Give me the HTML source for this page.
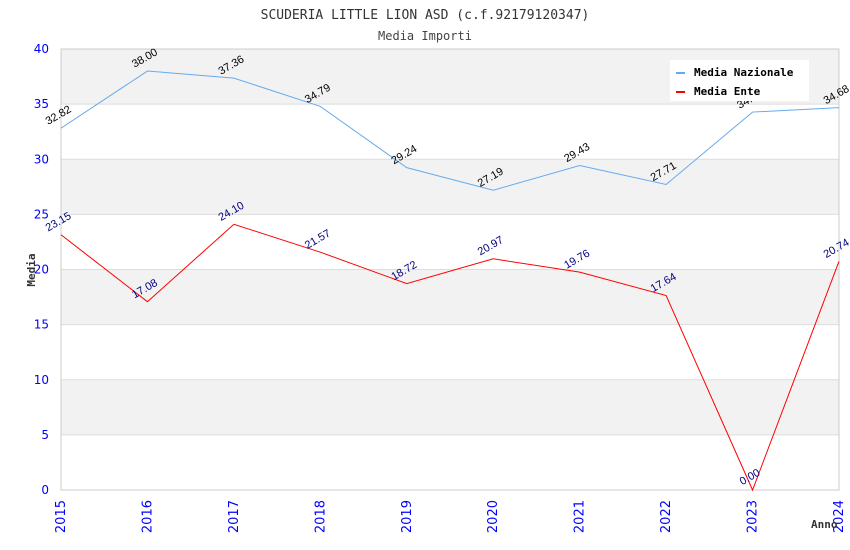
<!DOCTYPE html>
<html><head><meta charset="utf-8"><style>
body{margin:0;background:#fff;}
svg{display:block;font-family:"DejaVu Sans Mono","Liberation Mono",monospace;}
</style></head><body>
<svg id="c" width="850" height="550" xmlns="http://www.w3.org/2000/svg">
<text x="425" y="19" text-anchor="middle" font-size="13" fill="#333">SCUDERIA LITTLE LION ASD (c.f.92179120347)</text>
<text x="425" y="40" text-anchor="middle" font-size="12" fill="#444">Media Importi</text>
<g id="plot"></g>
<text x="35" y="270" transform="rotate(-90 35 270)" text-anchor="middle" font-size="11" font-weight="bold" fill="#333">Media</text>
<text x="811" y="528" font-size="11" font-weight="bold" fill="#333">Anno</text>
</svg>
<script>
const years=['2015','2016','2017','2018','2019','2020','2021','2022','2023','2024'];
const nazionale=[32.82,38.00,37.36,34.79,29.24,27.19,29.43,27.71,34.28,34.68];
const ente=[23.15,17.08,24.10,21.57,18.72,20.97,19.76,17.64,0.00,20.74];
const yTicks=[0,5,10,15,20,25,30,35,40];
const NS='http://www.w3.org/2000/svg';
const L=61,R=839,T=49,B=490,yMax=40;
const xs=i=>L+(R-L)*i/(years.length-1);
const ys=v=>B-(B-T)*v/yMax;
const g=document.getElementById('plot');
function mk(t,a){const e=document.createElementNS(NS,t);for(const k in a)e.setAttribute(k,a[k]);g.appendChild(e);return e;}
for(let i=0;i<yTicks.length-1;i++){
  const r=mk('rect',{x:L,y:ys(yTicks[i+1]),width:R-L,height:ys(yTicks[i])-ys(yTicks[i+1]),fill:i%2===1?'#f2f2f2':'#fff'});
  
  
}
yTicks.forEach(v=>{
  const l=mk('line',{x1:L,x2:R,y1:ys(v),y2:ys(v),stroke:'#ddd','stroke-width':1});
  
  
  const t=mk('text',{x:L-12,y:ys(v)+4,'text-anchor':'end','font-size':12,fill:'#00f','font-family':'DejaVu Sans, sans-serif'});
  t.textContent=v;
  
  
});
const fr=mk('rect',{x:L,y:T,width:R-L,height:B-T,fill:'none',stroke:'#ccc'});


years.forEach((y,i)=>{
  const x=xs(i)+4,yy=500;
  const t=mk('text',{x:x,y:yy,transform:`rotate(-90 ${x} ${yy})`,'text-anchor':'end','font-size':13,fill:'#00f','font-family':'DejaVu Sans, sans-serif'});
  t.textContent=y;
  
  
});
function series(vals,color,labColor,name){
  const p=mk('polyline',{points:vals.map((v,i)=>xs(i)+','+ys(v)).join(' '),fill:'none',stroke:color,'stroke-width':1});
  
  
  vals.forEach((v,i)=>{
    const x=xs(i)-1,y=ys(v)-10;
    const t=mk('text',{x:x,y:y,transform:`rotate(-30 ${x} ${y})`,'text-anchor':'middle','font-size':11,fill:labColor,'font-family':'Liberation Sans, sans-serif'});
    t.textContent=v.toFixed(2);
    
    
  });
}
series(nazionale,'#66aaee','#000','media-nazionale');
series(ente,'#ff0000','#000080','media-ente');
const lg=mk('rect',{x:670,y:60,width:139,height:41,fill:'#fff'});


[['Media Nazionale','#66aaee',72],['Media Ente','#ff0000',91]].forEach(([n,c,y])=>{
  const s=mk('rect',{x:676,y:y,width:9,height:2,fill:c});
  
  
  const t=mk('text',{x:694,y:y+4,'font-size':11,'font-weight':'bold',fill:'#000'});
  t.textContent=n;
  
  
});
</script>
</body></html>
